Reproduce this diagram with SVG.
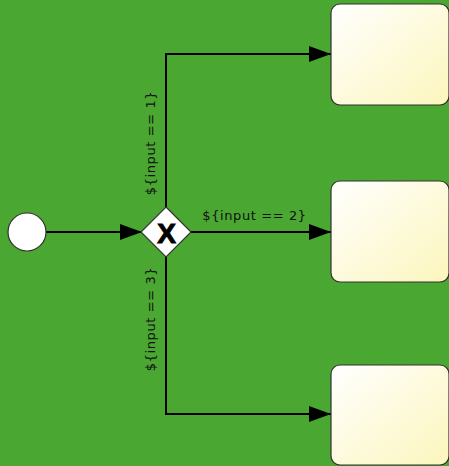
<svg xmlns="http://www.w3.org/2000/svg" width="449" height="466" viewBox="0 0 449 466">
<style>
.conn{fill:none;stroke:#000;stroke-width:2}
.lbl{font-family:"DejaVu Sans",sans-serif;font-size:13px;letter-spacing:0.6px;fill:#111}
.task{fill:url(#tg);stroke:#333;stroke-width:1.2}
</style>
<defs>
<linearGradient id="tg" x1="0" y1="0" x2="1" y2="1">
<stop offset="0" stop-color="#ffffff"/>
<stop offset="1" stop-color="#fcf6bc"/>
</linearGradient>
<marker id="arr" markerWidth="22" markerHeight="16" refX="22" refY="8" orient="auto" markerUnits="userSpaceOnUse">
<path d="M0,0 L22,8 L0,16 Z" fill="#000"/>
</marker>
</defs>
<rect width="449" height="466" fill="#4aa731"/>
<g id="connectors">
<path class="conn" d="M46,232 H142" marker-end="url(#arr)"/>
<path class="conn" d="M166,208 V54 H331" marker-end="url(#arr)"/>
<path class="conn" d="M190,232 H331" marker-end="url(#arr)"/>
<path class="conn" d="M166,256 V414 H331" marker-end="url(#arr)"/>
<text class="lbl" transform="translate(155,143) rotate(-90)" text-anchor="middle">${input == 1}</text>
<text class="lbl" x="254.5" y="220" text-anchor="middle">${input == 2}</text>
<text class="lbl" transform="translate(155,319) rotate(-90)" text-anchor="middle">${input == 3}</text>
</g>
<g id="start">
<circle cx="27" cy="232" r="19" fill="#fff" stroke="#333" stroke-width="1.2"/>
</g>
<g id="gateway">
<path d="M166,207 L191,232 L166,257 L141,232 Z" fill="#fff" stroke="#333" stroke-width="1.2"/>
<text x="166.5" y="242.5" text-anchor="middle" font-family="Liberation Sans,sans-serif" font-weight="bold" font-size="28" fill="#000" stroke="#000" stroke-width="1">X</text>
</g>
<g id="task1"><rect class="task" x="331" y="4" width="118" height="101" rx="9"/></g>
<g id="task2"><rect class="task" x="331" y="181" width="118" height="101" rx="9"/></g>
<g id="task3"><rect class="task" x="331" y="365" width="118" height="100" rx="9"/></g>
</svg>
